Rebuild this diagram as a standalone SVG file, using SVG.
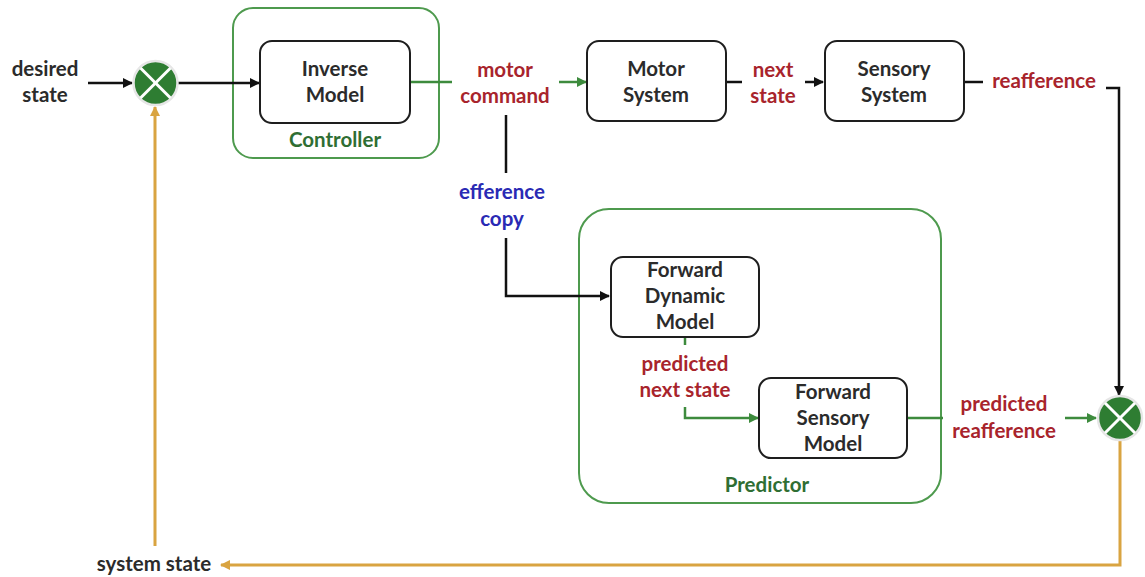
<svg xmlns="http://www.w3.org/2000/svg" width="1145" height="577" viewBox="0 0 1145 577">
  <style>
    text { font-family: Lato, "Open Sans", "Liberation Sans", sans-serif; font-weight: bold; font-size: 20.5px; text-anchor: middle; }
    .blk { fill: #2b2b2b; }
    .red { fill: #a8242c; }
    .blu { fill: #2a2ab4; }
    .grn { fill: #2f6e33; }
    .box { fill: #ffffff; stroke: #1e1e1e; stroke-width: 2; }
    .grp { fill: none; stroke: #4e9a4e; stroke-width: 2; }
    .lk { fill: none; stroke: #111111; stroke-width: 2.5; }
    .lg { fill: none; stroke: #3d8b3d; stroke-width: 2.5; }
    .ly { fill: none; stroke: #d9a441; stroke-width: 3; }
    .sum { fill: #2e7d32; stroke: #e6e6e6; stroke-width: 2.5; }
    .cross { stroke: #ffffff; stroke-width: 3; }
  </style>
  <defs>
    <marker id="ak" viewBox="0 0 10 10" refX="9" refY="5" markerWidth="4" markerHeight="4" orient="auto">
      <path d="M0,0 L10,5 L0,10 z" fill="#111111"/>
    </marker>
    <marker id="ag" viewBox="0 0 10 10" refX="9" refY="5" markerWidth="4" markerHeight="4" orient="auto">
      <path d="M0,0 L10,5 L0,10 z" fill="#3d8b3d"/>
    </marker>
    <marker id="ay" viewBox="0 0 10 10" refX="9" refY="5" markerWidth="3.5" markerHeight="3.5" orient="auto">
      <path d="M0,0 L10,5 L0,10 z" fill="#d9a441"/>
    </marker>
    <g id="sumjunction">
      <circle r="22" class="sum"/>
      <line x1="-15" y1="-15" x2="15" y2="15" class="cross"/>
      <line x1="-15" y1="15" x2="15" y2="-15" class="cross"/>
    </g>
  </defs>

  <rect width="1145" height="577" fill="#ffffff"/>

  <!-- grouping frames -->
  <g id="controller">
    <rect x="233" y="8" width="206" height="150" rx="20" class="grp"/>
    <text x="335" y="147" class="grn">Controller</text>
  </g>
  <g id="predictor">
    <rect x="579" y="209" width="362" height="294" rx="30" class="grp"/>
    <text x="767" y="492" class="grn">Predictor</text>
  </g>

  <!-- connectors -->
  <g id="connectors">
    <line x1="88" y1="83" x2="132" y2="83" class="lk" marker-end="url(#ak)"/>
    <line x1="178" y1="83" x2="259" y2="83" class="lk" marker-end="url(#ak)"/>
    <line x1="410" y1="82" x2="452" y2="82" class="lg"/>
    <line x1="559" y1="82" x2="586" y2="82" class="lg" marker-end="url(#ag)"/>
    <line x1="726" y1="82" x2="742" y2="82" class="lk"/>
    <line x1="805" y1="82" x2="823" y2="82" class="lk" marker-end="url(#ak)"/>
    <line x1="964" y1="82" x2="983" y2="82" class="lk"/>
    <polyline points="1106,88 1119,88 1119,395" class="lk" marker-end="url(#ak)"/>
    <line x1="506" y1="115" x2="506" y2="173" class="lk"/>
    <polyline points="506,238 506,296 609,296" class="lk" marker-end="url(#ak)"/>
    <line x1="685" y1="337" x2="685" y2="345" class="lg"/>
    <polyline points="685,407 685,418 758,418" class="lg" marker-end="url(#ag)"/>
    <line x1="907" y1="418" x2="943" y2="418" class="lg"/>
    <line x1="1065" y1="418" x2="1096" y2="418" class="lg" marker-end="url(#ag)"/>
    <polyline points="1120,441 1120,565 221,565" class="ly" marker-end="url(#ay)"/>
    <line x1="155" y1="546" x2="155" y2="107" class="ly" marker-end="url(#ay)"/>
  </g>

  <!-- summing junctions -->
  <g id="sum-input"><use href="#sumjunction" x="155.5" y="83"/></g>
  <g id="sum-output"><use href="#sumjunction" x="1120" y="418"/></g>

  <!-- blocks -->
  <g id="inverse-model">
    <rect x="260" y="41" width="150" height="82" rx="12" class="box"/>
    <text x="335" y="76" class="blk">Inverse</text>
    <text x="335" y="102" class="blk">Model</text>
  </g>
  <g id="motor-system">
    <rect x="587" y="41" width="139" height="80" rx="12" class="box"/>
    <text x="656" y="76" class="blk">Motor</text>
    <text x="656" y="102" class="blk">System</text>
  </g>
  <g id="sensory-system">
    <rect x="825" y="41" width="139" height="80" rx="12" class="box"/>
    <text x="894" y="76" class="blk">Sensory</text>
    <text x="894" y="102" class="blk">System</text>
  </g>
  <g id="forward-dynamic-model">
    <rect x="611" y="257" width="148" height="80" rx="12" class="box"/>
    <text x="685" y="277" class="blk">Forward</text>
    <text x="685" y="303" class="blk">Dynamic</text>
    <text x="685" y="329" class="blk">Model</text>
  </g>
  <g id="forward-sensory-model">
    <rect x="759" y="378" width="148" height="80" rx="12" class="box"/>
    <text x="833" y="399" class="blk">Forward</text>
    <text x="833" y="425" class="blk">Sensory</text>
    <text x="833" y="451" class="blk">Model</text>
  </g>

  <!-- signal labels -->
  <g id="labels">
    <text x="45" y="76" class="blk">desired</text>
    <text x="45" y="102" class="blk">state</text>
    <text x="505" y="77" class="red">motor</text>
    <text x="505" y="103" class="red">command</text>
    <text x="773" y="77" class="red">next</text>
    <text x="773" y="103" class="red">state</text>
    <text x="1044" y="88" class="red">reafference</text>
    <text x="502" y="199" class="blu">efference</text>
    <text x="502" y="226" class="blu">copy</text>
    <text x="685" y="371" class="red">predicted</text>
    <text x="685" y="397" class="red">next state</text>
    <text x="1004" y="411" class="red">predicted</text>
    <text x="1004" y="438" class="red">reafference</text>
    <text x="154" y="571" class="blk">system state</text>
  </g>
</svg>
